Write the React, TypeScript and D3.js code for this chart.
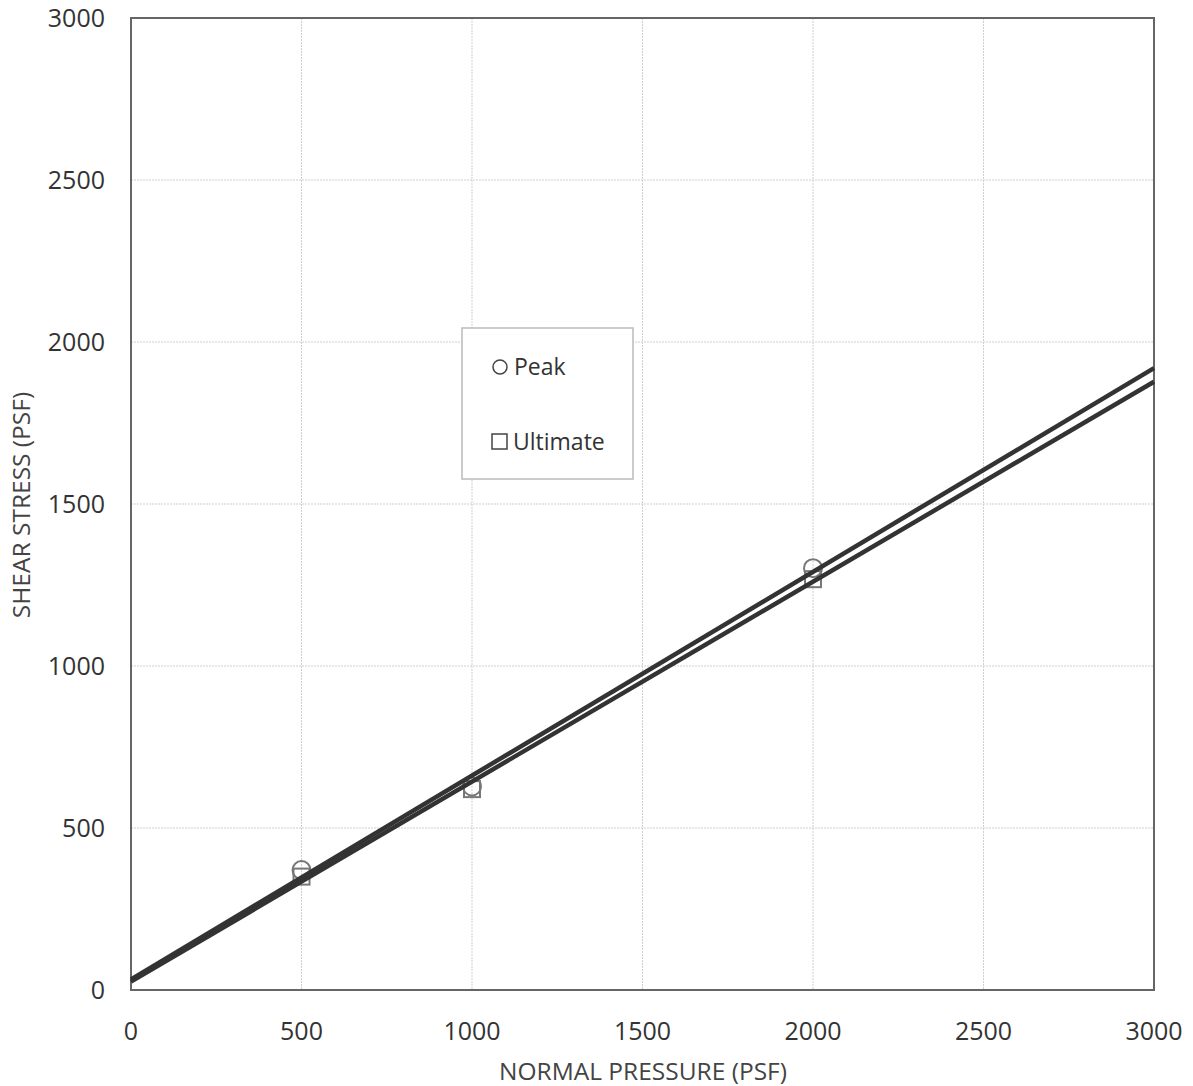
import React from "react";
import * as d3 from "d3";

const normalPressure = [500, 1000, 2000];
const peakStress = [370, 628, 1302];
const ultimateStress = [350, 620, 1268];
const xTicks = [0, 500, 1000, 1500, 2000, 2500, 3000];
const yTicks = [0, 500, 1000, 1500, 2000, 2500, 3000];
const seriesNames = ["Peak", "Ultimate"];

function fit(xs: number[], ys: number[]) {
  const mx = d3.mean(xs)!;
  const my = d3.mean(ys)!;
  let sxy = 0, sxx = 0;
  xs.forEach((x, i) => {
    sxy += (x - mx) * (ys[i] - my);
    sxx += (x - mx) * (x - mx);
  });
  const m = sxy / sxx;
  return { m, b: my - m * mx };
}

export default function App() {
  const W = 1193, H = 1086;
  const L = 131, R = 1154, T = 18, B = 990;
  const x = d3.scaleLinear().domain([0, 3000]).range([L, R]);
  const y = d3.scaleLinear().domain([0, 3000]).range([B, T]);
  const font = "'Open Sans', 'Noto Sans', sans-serif";
  const lineGen = d3.line<[number, number]>().x(d => x(d[0])).y(d => y(d[1]));
  const fits = [fit(normalPressure, peakStress), fit(normalPressure, ultimateStress)];
  return (
    <svg width={W} height={H} style={{ position: "absolute", left: 0, top: 0, background: "#fff" }}>
      {xTicks.slice(1, -1).map(t => (
        <line key={"gx" + t} x1={x(t)} x2={x(t)} y1={T} y2={B} stroke="#cfcfcf" strokeWidth={1} strokeDasharray="2,1" />
      ))}
      {yTicks.slice(1, -1).map(t => (
        <line key={"gy" + t} x1={L} x2={R} y1={y(t)} y2={y(t)} stroke="#cfcfcf" strokeWidth={1} strokeDasharray="2,1" />
      ))}
      <rect x={L} y={T} width={R - L} height={B - T} fill="none" stroke="#666" strokeWidth={2} />
      {yTicks.map(t => (
        <text key={"yt" + t} x={105} y={y(t)} dy="0.35em" textAnchor="end" fontFamily={font} fontSize={25} fill="#333">{t}</text>
      ))}
      {xTicks.map(t => (
        <text key={"xt" + t} x={x(t)} y={1040} textAnchor="middle" fontFamily={font} fontSize={25} fill="#333">{t}</text>
      ))}
      <text x={643} y={1080} textAnchor="middle" fontFamily={font} fontSize={24.5} fill="#444">NORMAL PRESSURE (PSF)</text>
      <text transform={`translate(30,505) rotate(-90)`} textAnchor="middle" fontFamily={font} fontSize={24.5} fill="#444">SHEAR STRESS (PSF)</text>
      {normalPressure.map((p, i) => (
        <circle key={"pc" + i} cx={x(p)} cy={y(peakStress[i])} r={9} fill="none" stroke="#777" strokeWidth={2} />
      ))}
      {normalPressure.map((p, i) => (
        <rect key={"us" + i} x={x(p) - 8} y={y(ultimateStress[i]) - 8} width={16} height={16} fill="none" stroke="#777" strokeWidth={2} />
      ))}
      {fits.map((f, i) => (
        <path key={"fl" + i} d={lineGen([[0, f.b], [3000, f.b + f.m * 3000]])!} fill="none" stroke="#333" strokeWidth={4.5} />
      ))}
      <rect x={462} y={328} width={171} height={151} fill="#fff" stroke="#bbb" strokeWidth={1.5} />
      <circle cx={500} cy={367} r={7} fill="none" stroke="#444" strokeWidth={1.5} />
      <text x={514} y={367} dy="0.35em" fontFamily={font} fontSize={23} fill="#333">{seriesNames[0]}</text>
      <rect x={492} y={434} width={15} height={15} fill="none" stroke="#444" strokeWidth={1.5} />
      <text x={513} y={442} dy="0.35em" fontFamily={font} fontSize={23} fill="#333">{seriesNames[1]}</text>
    </svg>
  );
}
